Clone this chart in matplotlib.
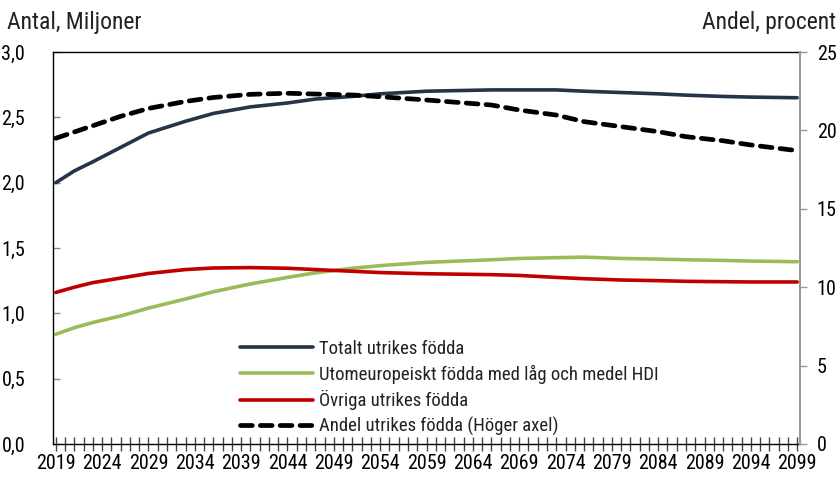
import matplotlib
matplotlib.use("Agg")
import matplotlib.pyplot as plt
from matplotlib.ticker import FuncFormatter, MultipleLocator

plt.rcParams['font.family'] = ['Roboto Condensed', 'Archivo Narrow', 'Liberation Sans', 'DejaVu Sans']
plt.rcParams['font.size'] = 14.5
plt.rcParams['text.color'] = '#222222'

# values (millions, left axis / percent, right axis)
years = [2019, 2021, 2023, 2026, 2029, 2033, 2036, 2040, 2044, 2047, 2051, 2054,
         2059, 2066, 2069, 2073, 2076, 2080, 2084, 2087, 2091, 2094, 2099]
totalt = [2.00, 2.09, 2.16, 2.27, 2.38, 2.47, 2.53, 2.58, 2.61, 2.64, 2.66, 2.68,
          2.70, 2.71, 2.71, 2.71, 2.70, 2.69, 2.68, 2.67, 2.66, 2.655, 2.65]
utomeuropeiskt = [0.84, 0.89, 0.93, 0.98, 1.04, 1.11, 1.165, 1.225, 1.275, 1.31, 1.345, 1.365,
                  1.39, 1.41, 1.42, 1.426, 1.43, 1.42, 1.415, 1.41, 1.405, 1.40, 1.395]
ovriga = [1.16, 1.20, 1.235, 1.27, 1.305, 1.335, 1.347, 1.35, 1.345, 1.335, 1.322, 1.312,
          1.303, 1.296, 1.29, 1.275, 1.265, 1.255, 1.25, 1.245, 1.242, 1.24, 1.24]
andel = [19.5, 19.9, 20.3, 20.9, 21.4, 21.85, 22.1, 22.30, 22.37, 22.32, 22.26, 22.15,
         21.94, 21.62, 21.3, 20.98, 20.56, 20.24, 19.92, 19.6, 19.34, 19.07, 18.71]

labels = ['Totalt utrikes födda',
          'Utomeuropeiskt födda med låg och medel HDI',
          'Övriga utrikes födda',
          'Andel utrikes födda (Höger axel)']

fig = plt.figure(figsize=(8.39, 4.79), dpi=100)
ax = fig.add_axes([0.0632, 0.0731, 0.8903, 0.8183])
ax2 = ax.twinx()

l1, = ax.plot(years, totalt, color='#253447', lw=2.6, solid_capstyle='round')
l2, = ax.plot(years, utomeuropeiskt, color='#9BBB59', lw=2.6, solid_capstyle='round')
l3, = ax.plot(years, ovriga, color='#C00000', lw=2.6, solid_capstyle='round')
l4, = ax2.plot(years, andel, color='black', lw=3.4, dashes=(2.5, 1.7),
               dash_capstyle='round')

ax.set_xlim(2018.7, 2099.3)
ax.set_ylim(0, 3)
ax2.set_ylim(0, 25)

ax.xaxis.set_major_locator(MultipleLocator(5, offset=4))
ax.xaxis.set_minor_locator(MultipleLocator(1))
ax.yaxis.set_major_locator(MultipleLocator(0.5))
ax2.yaxis.set_major_locator(MultipleLocator(5))
ax.yaxis.set_major_formatter(FuncFormatter(lambda v, p: f'{v:.1f}'.replace('.', ',')))

ax.tick_params(axis='x', which='both', direction='inout', length=10, width=1,
               color='#444444', pad=2, labelsize=14.5)
ax.tick_params(axis='y', direction='in', length=5, width=1, color='#888888',
               pad=20, labelsize=14.5)
ax2.tick_params(axis='y', direction='out', length=5, width=1, color='#999999',
                pad=7, labelsize=14.5)

for s in ['left', 'top', 'bottom']:
    ax.spines[s].set_color('black')
    ax.spines[s].set_linewidth(1)
ax.spines['right'].set_visible(False)
ax2.spines['right'].set_color('#999999')
ax2.spines['right'].set_linewidth(1.5)
for s in ['left', 'top', 'bottom']:
    ax2.spines[s].set_visible(False)

ax2.legend([l1, l2, l3, l4], labels, loc='center left', bbox_to_anchor=(0.25, 0.143),
           frameon=False, fontsize=13.5, handlelength=3.9, handletextpad=0.3,
           labelspacing=0.35, borderpad=0, borderaxespad=0)

fig.text(0.008, 0.978, 'Antal, Miljoner', ha='left', va='top', fontsize=17)
fig.text(0.997, 0.978, 'Andel, procent', ha='right', va='top', fontsize=17)

fig.savefig('out.png', dpi=100)
